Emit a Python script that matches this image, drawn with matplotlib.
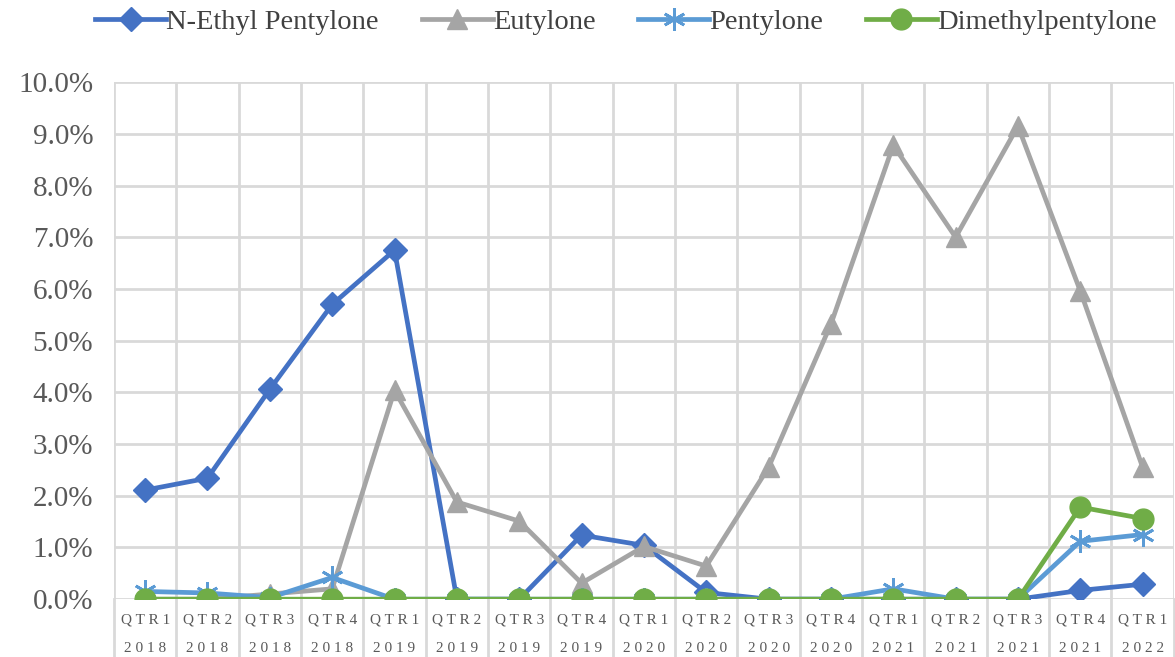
import matplotlib.pyplot as plt
from matplotlib.ticker import FuncFormatter

plt.rcParams['font.family'] = ['Liberation Serif', 'DejaVu Serif']

quarters = ['QTR1', 'QTR2', 'QTR3', 'QTR4', 'QTR1', 'QTR2', 'QTR3', 'QTR4', 'QTR1',
            'QTR2', 'QTR3', 'QTR4', 'QTR1', 'QTR2', 'QTR3', 'QTR4', 'QTR1']
years = ['2018', '2018', '2018', '2018', '2019', '2019', '2019', '2019', '2020',
         '2020', '2020', '2020', '2021', '2021', '2021', '2021', '2022']

n_ethyl = [2.11, 2.34, 4.06, 5.70, 6.75, 0.0, 0.0, 1.24, 1.04, 0.13, 0.0, 0.0, 0.0, 0.0, 0.0, 0.17, 0.29]
eutylone = [0.0, 0.0, 0.10, 0.20, 4.04, 1.88, 1.51, 0.31, 1.02, 0.64, 2.55, 5.32, 8.78, 7.00, 9.15, 5.96, 2.55]
pentylone = [0.15, 0.12, 0.03, 0.42, 0.0, 0.0, 0.0, 0.0, 0.0, 0.0, 0.0, 0.0, 0.20, 0.0, 0.0, 1.12, 1.25]
dimethyl = [0.0, 0.0, 0.0, 0.0, 0.0, 0.0, 0.0, 0.0, 0.0, 0.0, 0.0, 0.0, 0.0, 0.0, 0.0, 1.78, 1.56]

x = list(range(len(quarters)))

fig = plt.figure(figsize=(11.75, 6.57), dpi=100)
ax = fig.add_axes([0.097, 0.088, 0.902, 0.787])

ax.plot(x, n_ethyl, color='#4472C4', lw=3.4, marker='D', ms=12, label='N-Ethyl Pentylone', zorder=3)
ax.plot(x, eutylone, color='#A5A5A5', lw=3.4, marker='^', ms=15, label='Eutylone', zorder=4)
ax.plot(x, pentylone, color='#5B9BD5', lw=3.4, marker=(6, 2, 0), ms=16, mew=2,
        label='Pentylone', zorder=5)
ax.plot(x, dimethyl, color='#70AD47', lw=3.4, marker='o', ms=15, label='Dimethylpentylone', zorder=6)

ax.set_xlim(-0.5, len(x) - 0.5)
ax.set_ylim(0, 10)
ax.set_yticks(range(0, 11))
ax.yaxis.set_major_formatter(FuncFormatter(lambda v, p: f'{v:.1f}%'))
ax.set_xticks(x)
ax.set_xticklabels([' '.join(q) for q in quarters], fontsize=11, color='#595959')
ax.set_xticks([i + 0.5 for i in range(-1, len(x))], minor=True)
ax.tick_params(axis='y', labelsize=21, colors='#595959', length=0, pad=15)
ax.tick_params(axis='x', which='both', length=0, pad=10)

# second row of category labels (years)
for i, y in zip(x, years):
    ax.text(i, -0.095, ' '.join(y), transform=ax.get_xaxis_transform(), ha='center',
            va='center', fontsize=11, color='#595959')

ax.grid(True, axis='y', color='#D9D9D9', lw=2)
ax.grid(True, axis='x', which='minor', color='#D9D9D9', lw=2)
ax.grid(False, axis='x', which='major')
for s in ax.spines.values():
    s.set_visible(False)
ax.set_axisbelow(True)

# vertical grid lines continue down through the category labels
for b in [i + 0.5 for i in range(-1, len(x))]:
    ax.plot([b, b], [0, -0.12], transform=ax.get_xaxis_transform(), color='#D9D9D9',
            lw=2, clip_on=False, zorder=0)

ax.legend(loc='center', bbox_to_anchor=(0.483, 1.116), ncol=4, frameon=False,
          fontsize=20.5, handlelength=2.5, columnspacing=1.5, handletextpad=0.0,
          labelcolor='#404040')

fig.savefig('out.png', dpi=100)
